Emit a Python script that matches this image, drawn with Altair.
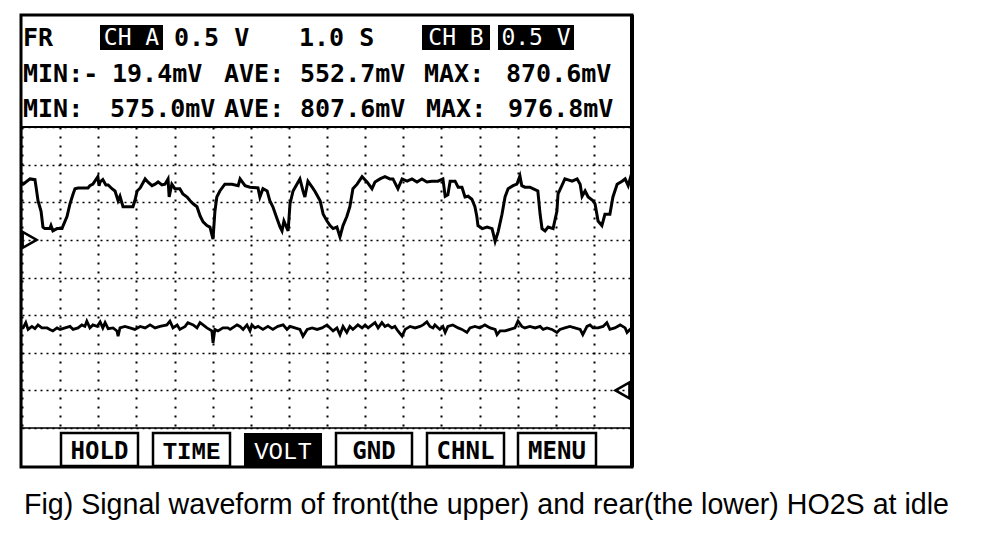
import altair as alt
import pandas as pd

# ---- Channel A (front HO2S) : time [s], volts ----
a_t = [0.00, 0.03, 0.21, 0.34, 0.37, 0.42, 0.50, 0.55, 0.60, 0.73, 0.76, 0.81, 0.92, 1.05, 1.08, 1.18,
       1.26, 1.34, 1.39, 1.47, 1.73, 1.78, 1.86, 1.99, 2.02, 2.05, 2.12, 2.20, 2.26, 2.36, 2.44, 2.52,
       2.57, 2.65, 2.91, 2.96, 3.02, 3.10, 3.23, 3.30, 3.41, 3.49, 3.57, 3.67, 3.75, 3.83, 3.86, 3.93,
       4.01, 4.14, 4.22, 4.33, 4.41, 4.49, 4.59, 4.67, 4.75, 4.85, 4.93, 5.01, 5.06, 5.11, 5.19, 5.32,
       5.46, 5.51, 5.67, 5.72, 5.85, 5.98, 6.19, 6.24, 6.32, 6.43, 6.50, 6.58, 6.69, 6.77, 6.82, 6.87,
       6.98, 7.03, 7.11, 7.21, 7.29, 7.37, 7.42, 7.50, 7.61, 7.69, 7.82, 7.90, 8.00, 8.08, 8.16, 8.26,
       8.34, 8.42, 8.52, 8.60, 8.68, 8.79, 8.92, 9.05, 9.18, 9.26, 9.39, 9.52, 9.65, 9.73, 9.86, 9.97,
       10.10, 10.23, 10.36, 10.49, 10.62, 10.75, 10.91, 11.04, 11.10, 11.17, 11.23, 11.36, 11.44, 11.54,
       11.62, 11.70, 11.80, 11.88, 11.93, 11.96, 12.07, 12.20, 12.33, 12.41, 12.49, 12.59, 12.67, 12.75,
       12.88, 12.98, 13.06, 13.11, 13.19, 13.32, 13.40, 13.53, 13.59, 13.64, 13.72, 13.80, 13.93, 14.03,
       14.06, 14.16, 14.24, 14.43, 14.56, 14.64, 14.69, 14.77, 14.85, 14.98, 15.03, 15.11, 15.21, 15.29,
       15.42, 15.50, 15.61, 15.74, 15.82, 15.90, 15.95, 16.00]
a_v = [0.74, 0.74, 0.81, 0.80, 0.70, 0.52, 0.38, 0.17, 0.15, 0.15, 0.19, 0.12, 0.15, 0.15, 0.19, 0.31,
       0.48, 0.61, 0.68, 0.69, 0.69, 0.72, 0.74, 0.84, 0.72, 0.77, 0.80, 0.73, 0.73, 0.68, 0.65, 0.52,
       0.58, 0.44, 0.44, 0.52, 0.65, 0.69, 0.81, 0.77, 0.72, 0.74, 0.77, 0.73, 0.74, 0.81, 0.57, 0.74,
       0.68, 0.68, 0.61, 0.57, 0.52, 0.48, 0.44, 0.32, 0.24, 0.19, 0.17, 0.01, 0.38, 0.57, 0.65, 0.74,
       0.74, 0.74, 0.72, 0.81, 0.72, 0.70, 0.69, 0.57, 0.68, 0.65, 0.52, 0.44, 0.28, 0.17, 0.12, 0.25,
       0.12, 0.48, 0.65, 0.74, 0.81, 0.65, 0.57, 0.78, 0.70, 0.64, 0.52, 0.34, 0.25, 0.19, 0.15, 0.17,
       0.04, 0.19, 0.31, 0.44, 0.68, 0.74, 0.84, 0.77, 0.68, 0.77, 0.81, 0.84, 0.81, 0.81, 0.68, 0.81,
       0.78, 0.81, 0.77, 0.81, 0.77, 0.78, 0.78, 0.81, 0.58, 0.60, 0.78, 0.78, 0.70, 0.70,
       0.57, 0.58, 0.54, 0.44, 0.31, 0.19, 0.15, 0.17, 0.15, -0.02, 0.11, 0.34, 0.57, 0.68,
       0.72, 0.74, 0.85, 0.72, 0.70, 0.70, 0.68, 0.65, 0.34, 0.15, 0.12, 0.17, 0.15, 0.38,
       0.61, 0.72, 0.81, 0.78, 0.81, 0.74, 0.58, 0.65, 0.57, 0.52, 0.48, 0.25, 0.19, 0.34,
       0.34, 0.57, 0.74, 0.78, 0.81, 0.72, 0.81, 0.74]

# ---- Channel B (rear HO2S) : time [s], volts ----
b_t = [0.00, 0.03, 0.10, 0.16, 0.26, 0.34, 0.42, 0.52, 0.66, 0.73, 0.81, 0.92, 1.00, 1.13, 1.26, 1.34,
       1.47, 1.57, 1.65, 1.70, 1.78, 1.86, 1.97, 2.05, 2.12, 2.18, 2.26, 2.39, 2.49, 2.52, 2.57, 2.70,
       2.83, 2.96, 3.10, 3.23, 3.36, 3.49, 3.62, 3.80, 3.88, 3.96, 4.07, 4.14, 4.28, 4.35, 4.49, 4.59,
       4.67, 4.75, 4.85, 4.98, 5.01, 5.06, 5.14, 5.27, 5.40, 5.46, 5.64, 5.72, 5.80, 5.90, 5.98, 6.03,
       6.11, 6.19, 6.32, 6.45, 6.58, 6.71, 6.85, 6.95, 7.03, 7.16, 7.29, 7.37, 7.48, 7.61, 7.74, 7.87,
       8.00, 8.08, 8.16, 8.26, 8.34, 8.42, 8.52, 8.60, 8.68, 8.81, 8.92, 9.00, 9.08, 9.18, 9.26, 9.34,
       9.44, 9.52, 9.60, 9.70, 9.78, 9.86, 9.97, 10.05, 10.18, 10.31, 10.44, 10.52, 10.62, 10.70, 10.78,
       10.83, 10.96, 11.04, 11.10, 11.17, 11.30, 11.44, 11.54, 11.67, 11.75, 11.88, 12.01, 12.14, 12.28,
       12.41, 12.46, 12.54, 12.67, 12.80, 12.93, 13.01, 13.11, 13.19, 13.32, 13.46, 13.59, 13.67, 13.77,
       13.90, 14.03, 14.11, 14.24, 14.37, 14.50, 14.64, 14.71, 14.82, 14.90, 14.98, 15.11, 15.24, 15.34,
       15.42, 15.55, 15.69, 15.82, 15.87, 15.95, 16.00]
b_v = [0.83, 0.83, 0.90, 0.81, 0.85, 0.82, 0.87, 0.83, 0.83, 0.81, 0.79, 0.83, 0.81, 0.83, 0.85, 0.81,
       0.83, 0.87, 0.85, 0.92, 0.83, 0.87, 0.85, 0.91, 0.83, 0.90, 0.82, 0.83, 0.79, 0.72, 0.83, 0.85,
       0.83, 0.81, 0.85, 0.83, 0.87, 0.83, 0.85, 0.87, 0.92, 0.83, 0.87, 0.81, 0.85, 0.90, 0.87, 0.83,
       0.90, 0.87, 0.83, 0.79, 0.63, 0.81, 0.79, 0.83, 0.83, 0.81, 0.87, 0.85, 0.81, 0.87, 0.79, 0.87,
       0.83, 0.85, 0.81, 0.85, 0.81, 0.85, 0.87, 0.81, 0.85, 0.83, 0.81, 0.72, 0.81, 0.83, 0.81, 0.83,
       0.87, 0.83, 0.79, 0.83, 0.74, 0.85, 0.77, 0.85, 0.81, 0.87, 0.83, 0.87, 0.83, 0.87, 0.90, 0.83,
       0.90, 0.85, 0.87, 0.83, 0.85, 0.79, 0.72, 0.81, 0.85, 0.83, 0.85, 0.87, 0.91, 0.85, 0.83,
       0.87, 0.81, 0.85, 0.77, 0.85, 0.87, 0.83, 0.81, 0.77, 0.83, 0.85, 0.83, 0.87, 0.83,
       0.81, 0.74, 0.79, 0.79, 0.81, 0.83, 0.92, 0.85, 0.83, 0.85, 0.83, 0.85, 0.81, 0.83,
       0.81, 0.77, 0.81, 0.83, 0.85, 0.83, 0.81, 0.74, 0.85, 0.87, 0.83, 0.83, 0.85, 0.90,
       0.81, 0.83, 0.87, 0.83, 0.77, 0.81, 0.83]

# ---- Screen texts ----
row1_plain = ["FR", "0.5 V", "1.0 S"]
row1_boxed = ["CH A", "CH B", "0.5 V"]
row2 = ["MIN:-", "19.4mV", "AVE:", "552.7mV", "MAX:", "870.6mV"]
row3 = ["MIN:", "575.0mV", "AVE:", "807.6mV", "MAX:", "976.8mV"]
buttons = ["HOLD", "TIME", "VOLT", "GND", "CHNL", "MENU"]
caption = "Fig) Signal waveform of front(the upper) and rear(the lower) HO2S at idle"

W, H = 610, 301
MONO = "DejaVu Sans Mono"
one = alt.Data(values=[{}])

dfA = pd.DataFrame({"t": a_t, "v": a_v})
dfB = pd.DataFrame({"t": b_t, "v": b_v})

xscale = alt.Scale(domain=[0, 16], nice=False, zero=False)
yA = alt.Scale(domain=[-2.5, 1.5], nice=False, zero=False)
yB = alt.Scale(domain=[-0.5, 3.5], nice=False, zero=False)

xaxis = alt.Axis(values=list(range(17)), grid=True, gridDash=[2, 7], gridColor="black",
                 gridWidth=2, gridOpacity=1, labels=False, ticks=False, domain=False, title=None)
yaxis = alt.Axis(values=[-0.5 + 0.5 * i for i in range(9)], grid=True, gridDash=[2, 4],
                 gridColor="black", gridWidth=1.6, gridOpacity=1, labels=False, ticks=False,
                 domain=False, title=None)

X = alt.X("t:Q", scale=xscale, axis=xaxis)

lineB = alt.Chart(dfB).mark_line(color="black", strokeWidth=2.8).encode(
    x=X, y=alt.Y("v:Q", scale=yB, axis=yaxis))
lineA = alt.Chart(dfA).mark_line(color="black", strokeWidth=3).encode(
    x=X, y=alt.Y("v:Q", scale=yA, axis=None))

markA = alt.Chart(alt.Data(values=[{"t": 0.2, "v": 0}])).mark_point(
    shape="triangle-right", filled=False, color="black", strokeWidth=2.5, size=260, opacity=1).encode(
    x=X, y=alt.Y("v:Q", scale=yA, axis=None))
markB = alt.Chart(alt.Data(values=[{"t": 15.75, "v": 0}])).mark_point(
    shape="triangle-left", filled=False, color="black", strokeWidth=2.5, size=260, opacity=1).encode(
    x=X, y=alt.Y("v:Q", scale=yB, axis=None))


def box(x1, y1, x2, y2, fill="transparent", sw=2.5):
    return alt.Chart(one).mark_rect(fill=fill, stroke="black", strokeWidth=sw).encode(
        x=alt.value(x1), x2=alt.value(x2), y=alt.value(y1), y2=alt.value(y2))


def rule(x1, x2, y, sw):
    return alt.Chart(one).mark_rule(color="black", strokeWidth=sw).encode(
        x=alt.value(x1), x2=alt.value(x2), y=alt.value(y))


def label(text, x, y, size=25, bold=True, color="black", align="left", font=MONO):
    return alt.Chart(one).mark_text(
        font=font, fontSize=size, fontWeight="bold" if bold else "normal", color=color,
        align=align, baseline="alphabetic").encode(
        x=alt.value(x), y=alt.value(y), text=alt.value(text))


layers = [lineB, lineA, markA, markB]

# frame and separators
layers += [box(-1, -112, 610, 340, sw=3), rule(-1, 610, 0, 2), rule(-1, 610, 301, 1.5)]
layers += [alt.Chart(one).mark_rule(color="black", strokeWidth=4).encode(
    x=alt.value(610), y=alt.value(-112), y2=alt.value(340))]

# row 1
for txt, x in zip(row1_plain, [1, 152, 277]):
    layers.append(label(txt, x, -81))
for txt, (x1, x2) in zip(row1_boxed, [(78, 141), (400, 468), (476, 552)]):
    layers.append(box(x1, -102, x2, -77, fill="black", sw=0))
    layers.append(label(txt, (x1 + x2) / 2, -82, size=23, bold=False, color="white", align="center"))

# rows 2 and 3
for txt, x in zip(row2, [1, 90, 202, 278, 402, 484]):
    layers.append(label(txt, x, -45))
for txt, x in zip(row3, [1, 88, 202, 278, 404, 486]):
    layers.append(label(txt, x, -10))

# soft buttons
btn_x = [(39, 116), (131, 208), (222, 300), (314, 390), (405, 482), (496, 574)]
for txt, (x1, x2) in zip(buttons, btn_x):
    active = txt == "VOLT"
    layers.append(box(x1, 306, x2, 339, fill="black" if active else "white", sw=0 if active else 2.5))
    layers.append(label(txt, (x1 + x2) / 2, 332, size=24, bold=not active,
                        color="white" if active else "black", align="center",
                        font="Liberation Mono" if txt in ("TIME", "VOLT") else MONO))

# caption
layers.append(label(caption, 2, 387, size=28.6, bold=False, font="Liberation Sans"))

chart = alt.layer(*layers).resolve_scale(y="independent").properties(
    width=W, height=H,
    padding={"left": 14, "top": 119, "right": 362, "bottom": 102},
    autosize=alt.AutoSizeParams(type="none"),
).configure_view(stroke=None).configure(background="white")

chart.save("out.html", embed_options={"renderer": "svg", "actions": False})
